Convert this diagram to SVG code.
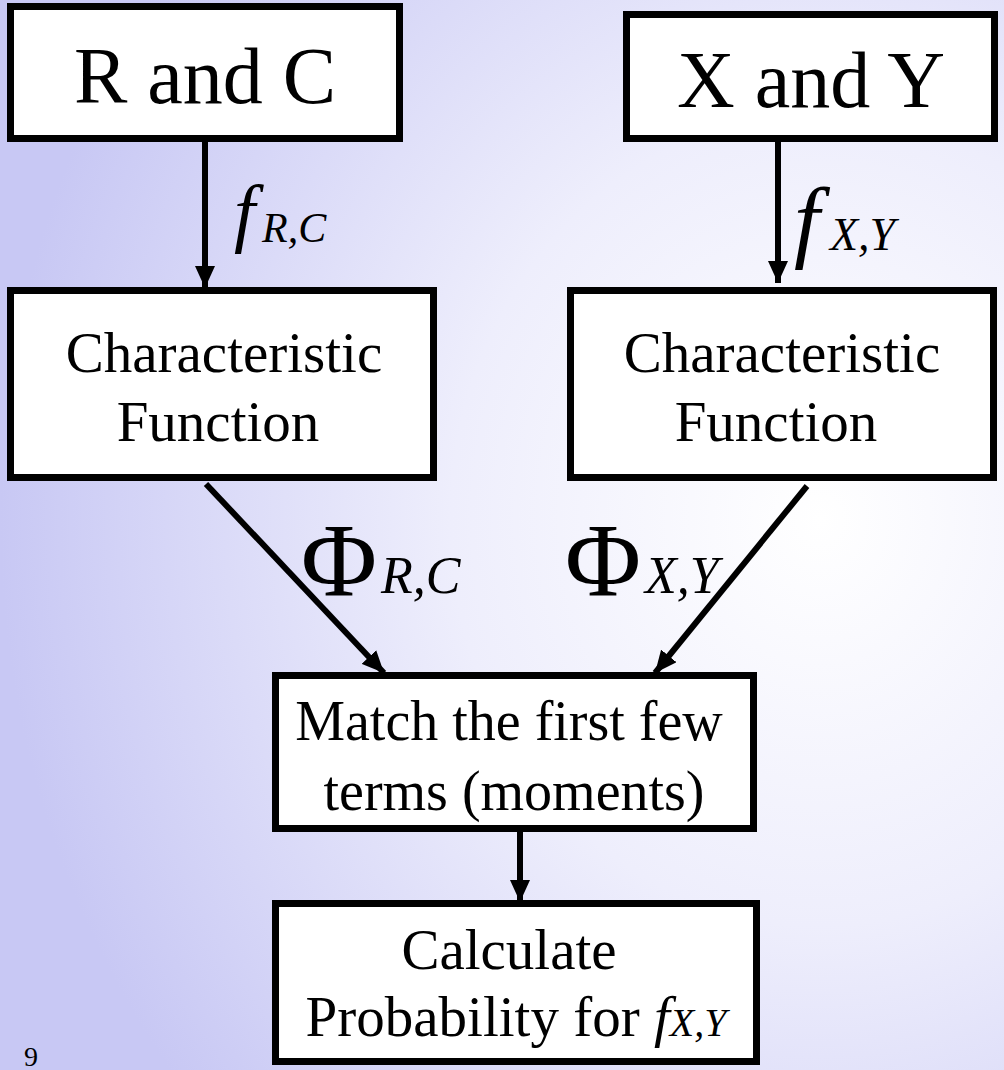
<svg xmlns="http://www.w3.org/2000/svg" width="1004" height="1070" viewBox="0 0 1004 1070">
  <defs>
    <radialGradient id="bg" gradientUnits="userSpaceOnUse" cx="820" cy="520" r="820" gradientTransform="translate(820 520) scale(1 1.1) translate(-820 -520)">
      <stop offset="0" stop-color="#ffffff"/>
      <stop offset="0.45" stop-color="#eeeefc"/>
      <stop offset="1" stop-color="#c8c8f4"/>
    </radialGradient>
    <marker id="ah" markerUnits="userSpaceOnUse" markerWidth="22" markerHeight="20" refX="22" refY="10" orient="auto">
      <path d="M0,0 L22,10 L0,20 Z" fill="#000"/>
    </marker>
    <style>
      .box { fill: #ffffff; stroke: #000; stroke-width: 7; }
      .conn { stroke: #000; stroke-width: 6; fill: none; marker-end: url(#ah); }
      text { font-family: 'Liberation Serif', 'Times New Roman', 'DejaVu Serif', serif; fill: #000; }
      .t { text-anchor: middle; }
      .s { text-anchor: start; }
      .i { font-style: italic; }
    </style>
  </defs>
  <rect x="0" y="0" width="1004" height="1070" fill="url(#bg)"/>

  <g id="connectors">
    <line class="conn" x1="205" y1="142" x2="205" y2="288"/>
    <line class="conn" x1="778" y1="142" x2="778" y2="283"/>
    <line class="conn" x1="206" y1="484" x2="384" y2="673"/>
    <line class="conn" x1="807" y1="486" x2="655" y2="673"/>
    <line class="conn" x1="520" y1="832" x2="520" y2="902"/>
    <text class="s"><tspan class="i" font-size="76" x="234" y="238">f</tspan><tspan class="i" font-size="42" x="262" y="242">R,C</tspan></text>
    <text class="s"><tspan class="i" font-size="92" x="794" y="251">f</tspan><tspan class="i" font-size="46" x="830" y="250">X,Y</tspan></text>
    <text class="s"><tspan font-size="104" x="301" y="595">Φ</tspan><tspan class="i" font-size="52" x="381" y="593">R,C</tspan></text>
    <text class="s"><tspan font-size="104" x="565" y="595">Φ</tspan><tspan class="i" font-size="52" x="645" y="593">X,Y</tspan></text>
  </g>

  <g id="node-rc">
    <rect class="box" x="10.5" y="6.5" width="389" height="132"/>
    <text class="t" x="205" y="103" font-size="80">R and C</text>
  </g>
  <g id="node-xy">
    <rect class="box" x="626.5" y="14.5" width="368" height="124"/>
    <text class="t" x="811" y="107" font-size="80">X and Y</text>
  </g>
  <g id="node-char-left">
    <rect class="box" x="10.5" y="290.5" width="423" height="187"/>
    <text class="t" x="224" y="372" font-size="57">Characteristic</text>
    <text class="t" x="218" y="441" font-size="57">Function</text>
  </g>
  <g id="node-char-right">
    <rect class="box" x="570.5" y="290.5" width="423" height="187"/>
    <text class="t" x="782" y="372" font-size="57">Characteristic</text>
    <text class="t" x="776" y="441" font-size="57">Function</text>
  </g>
  <g id="node-match">
    <rect class="box" x="275.5" y="675.5" width="478" height="153"/>
    <text class="t" x="509" y="740" font-size="56">Match the first few</text>
    <text class="t" x="514" y="810" font-size="56">terms (moments)</text>
  </g>
  <g id="node-calc">
    <rect class="box" x="275.5" y="903.5" width="481" height="158"/>
    <text class="t" x="509" y="969" font-size="57">Calculate</text>
    <text class="t" x="516" y="1036" font-size="57">Probability for <tspan class="i">f</tspan><tspan class="i" font-size="40">X,Y</tspan></text>
  </g>
  <text x="24" y="1066" font-size="28" fill="#333">9</text>
</svg>
